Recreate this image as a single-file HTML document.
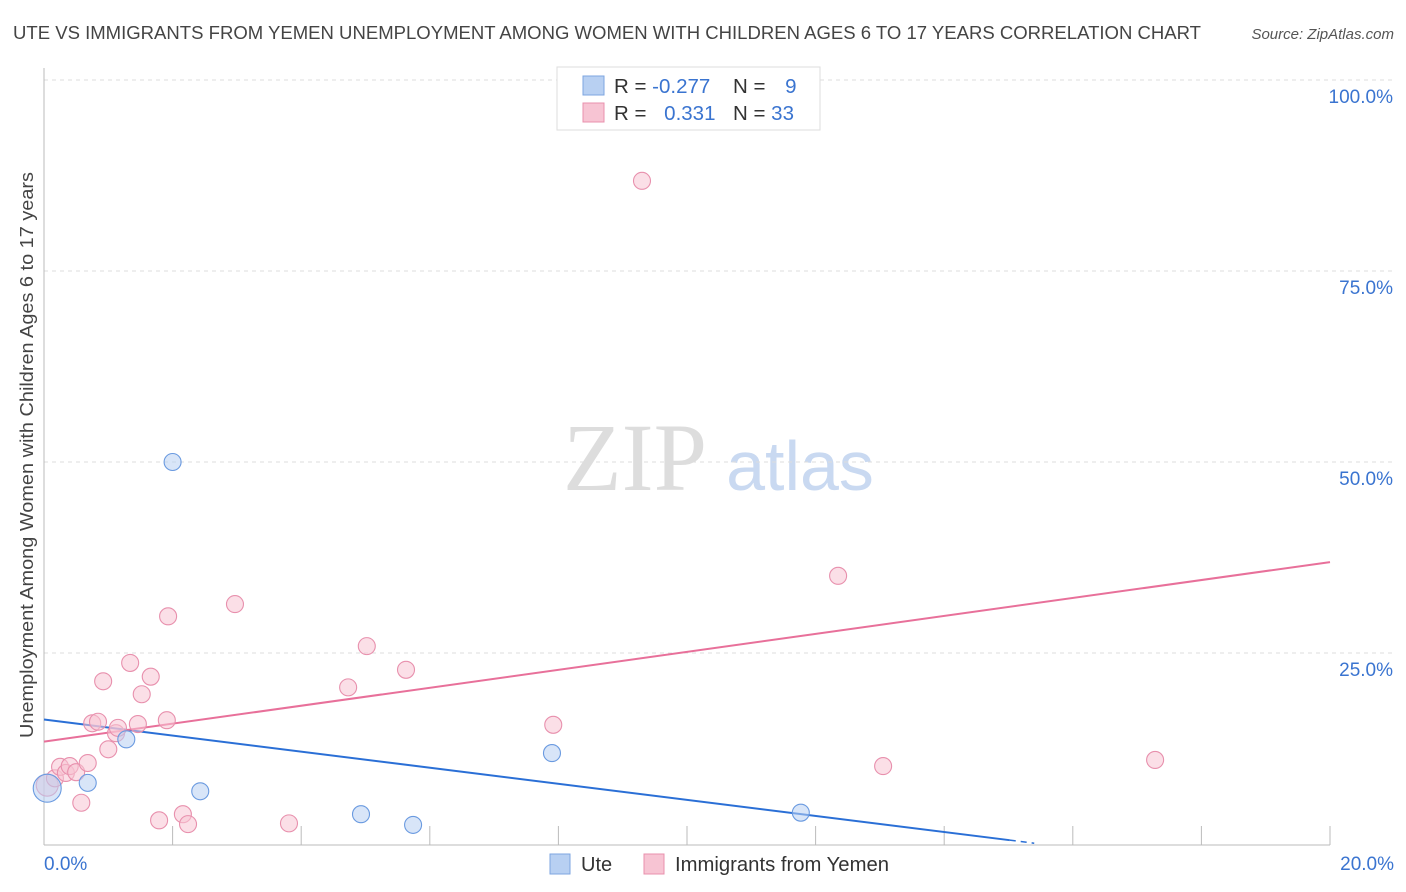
<!DOCTYPE html>
<html><head><meta charset="utf-8"><style>
body{margin:0;background:#fff;font-family:"Liberation Sans",sans-serif}
svg{display:block}
</style></head><body>
<svg id="chart" width="1406" height="892" xmlns="http://www.w3.org/2000/svg">
<text x="13" y="39" font-size="18" fill="#444" textLength="1188" lengthAdjust="spacingAndGlyphs">UTE VS IMMIGRANTS FROM YEMEN UNEMPLOYMENT AMONG WOMEN WITH CHILDREN AGES 6 TO 17 YEARS CORRELATION CHART</text>
<text x="1394" y="39" font-size="15" fill="#555" text-anchor="end" font-style="italic">Source: ZipAtlas.com</text>
<g>
<text x="635" y="490" font-size="96" fill="#ddd" text-anchor="middle" font-family="Liberation Serif,serif">ZIP</text>
<text x="800" y="490" font-size="70" fill="#c9d9f1" text-anchor="middle">atlas</text>
</g>
<text transform="translate(33,455) rotate(-90)" font-size="18" fill="#444" text-anchor="middle" textLength="566" lengthAdjust="spacingAndGlyphs">Unemployment Among Women with Children Ages 6 to 17 years</text>
<g id="grid"></g><g id="axes"></g><g id="lines"></g><g id="pts"></g>
<g>
<rect x="557" y="67" width="263" height="63" fill="#fff" stroke="#ddd"/>
<rect x="583" y="76" width="21" height="19" fill="#b8d0f2" stroke="#7ea6e0"/>
<rect x="583" y="103" width="21" height="19" fill="#f7c4d3" stroke="#e890ad"/>
<text x="614" y="93" font-size="20.5" fill="#333">R = <tspan fill="#3a74d0">-0.277</tspan></text>
<text x="733" y="93" font-size="20.5" fill="#333">N = <tspan fill="#3a74d0" dx="14">9</tspan></text>
<text x="614" y="120" font-size="20.5" fill="#333">R = <tspan fill="#3a74d0" dx="12">0.331</tspan></text>
<text x="733" y="120" font-size="20.5" fill="#333">N = <tspan fill="#3a74d0">33</tspan></text>
</g>
<g>
<rect x="550" y="854" width="20" height="20" fill="#b8d0f2" stroke="#7ea6e0"/>
<text x="581" y="871" font-size="20" fill="#333">Ute</text>
<rect x="644" y="854" width="20" height="20" fill="#f7c4d3" stroke="#e890ad"/>
<text x="675" y="871" font-size="20" fill="#333" textLength="214" lengthAdjust="spacingAndGlyphs">Immigrants from Yemen</text>
</g>
</svg>
<script>
const uteX=[0.05,0.68,1.28,2.0,2.43,4.93,5.74,7.9,11.77];
const uteY=[7.3,8.0,13.7,50.0,6.9,3.9,2.5,11.9,4.1];
const yemX=[0.05,0.17,0.25,0.34,0.40,0.50,0.58,0.68,0.75,0.84,0.92,1.0,1.12,1.15,1.34,1.46,1.52,1.66,1.79,1.93,1.91,2.16,2.24,2.97,3.81,4.73,5.02,5.63,7.92,9.30,12.35,13.05,17.28];
const yemY=[7.7,8.6,10.1,9.3,10.2,9.4,5.4,10.6,15.8,16.0,21.3,12.4,14.5,15.2,23.7,15.7,19.6,21.9,3.1,29.8,16.2,3.9,2.6,31.4,2.7,20.5,25.9,22.8,15.6,86.8,35.1,10.2,11.0];
const yTicks=[25,50,75,100];
const uteTrend=[16.3,0.5,15.02];
const yemTrend=[13.4,36.9];
const NS="http://www.w3.org/2000/svg";
const sx=v=>44+v*64.3, sy=v=>844-v*7.64;
function mk(t,a,p){const e=document.createElementNS(NS,t);for(const k in a)e.setAttribute(k,a[k]);document.getElementById(p).appendChild(e);return e;}
yTicks.forEach(t=>{
 const l=mk('line',{x1:44,x2:1394,y1:sy(t),y2:sy(t),stroke:'#ddd','stroke-dasharray':'4,4'},'grid');
 
 
 const tx=mk('text',{x:1393,y:sy(t)+23,'font-size':19,fill:'#3a74d0','text-anchor':'end'},'axes');
 tx.textContent=t.toFixed(1)+'%';
 
 
});
mk('line',{x1:44,x2:44,y1:68,y2:845,stroke:'#bbb'},'axes');
mk('line',{x1:44,x2:1330,y1:845,y2:845,stroke:'#bbb'},'axes');
for(let i=0;i<=10;i++){const t=mk('line',{x1:sx(i*2),x2:sx(i*2),y1:i==0?845:826,y2:845,stroke:'#bbb'},'axes');}
[['0.0%',44,'start'],['20.0%',1394,'end']].forEach(([s,x,a])=>{const t=mk('text',{x:x,y:870,'font-size':19,fill:'#3a74d0','text-anchor':a},'axes');t.textContent=s;});
const bl=mk('line',{x1:sx(0),y1:sy(uteTrend[0]),x2:sx(uteTrend[2]),y2:sy(uteTrend[1]),stroke:'#2a6fd6','stroke-width':2},'lines');


const sl=(uteTrend[1]-uteTrend[0])/uteTrend[2];
const bd=mk('line',{x1:sx(uteTrend[2]),y1:sy(uteTrend[1]),x2:sx(15.4),y2:sy(uteTrend[0]+sl*15.4),stroke:'#2a6fd6','stroke-width':1.5,'stroke-dasharray':'6,5'},'lines');


const pl=mk('line',{x1:sx(0),y1:sy(yemTrend[0]),x2:sx(20),y2:sy(yemTrend[1]),stroke:'#e8709a','stroke-width':2},'lines');


yemX.forEach((x,i)=>{const c=mk('circle',{cx:sx(x),cy:sy(yemY[i]),r:i==0?11:8.5,fill:'#f7c4d3','fill-opacity':0.55,stroke:'#e890ad','stroke-width':1.1},'pts');

});
uteX.forEach((x,i)=>{const c=mk('circle',{cx:sx(x),cy:sy(uteY[i]),r:i==0?14:8.5,fill:'#b8d0f2','fill-opacity':0.55,stroke:'#6a9ae0','stroke-width':1.1},'pts');

});
</script>
</body></html>
